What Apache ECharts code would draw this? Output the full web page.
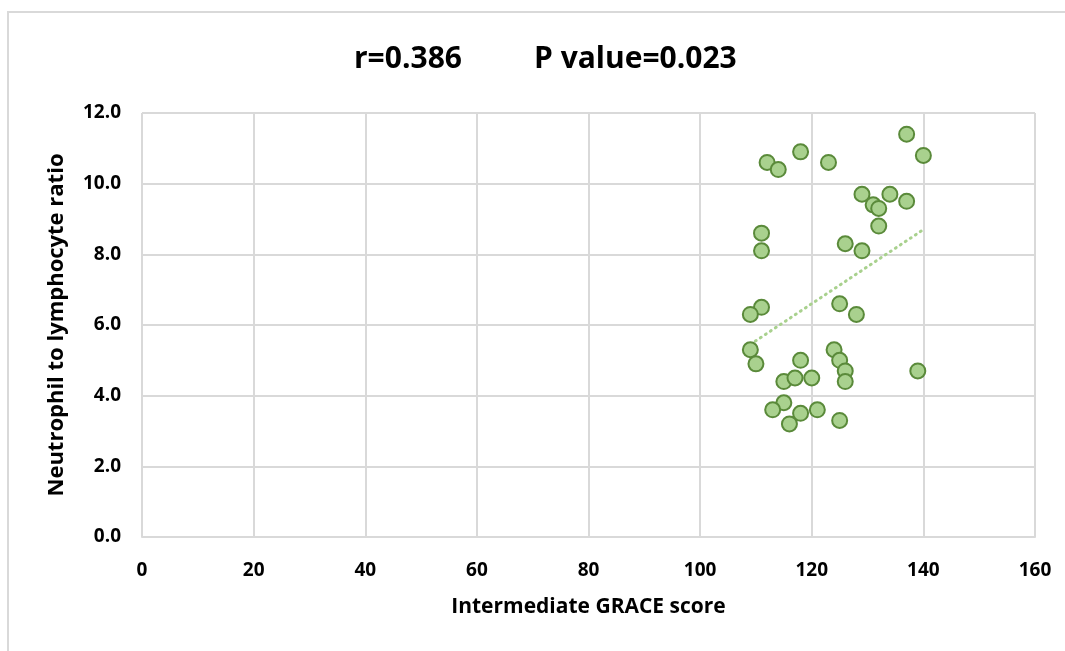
<!DOCTYPE html>
<html>
<head>
<meta charset="utf-8">
<script src="https://cdn.jsdelivr.net/npm/echarts@6/dist/echarts.min.js"></script>
<style>
  html, body { margin: 0; padding: 0; background: #fff; }
  #chart { width: 1065px; height: 651px; }
</style>
</head>
<body>
<div id="chart"></div>
<script>
// GRACE score vs NLR
const graceScore = [137, 140, 112, 114, 118, 123, 129, 134, 131, 132, 137, 132, 111, 111, 126, 129,
                    111, 109, 125, 128, 109, 110, 118, 124, 125, 126, 126, 139, 115, 117, 120,
                    115, 113, 118, 121, 116, 125];
const nlrValue   = [11.4, 10.8, 10.6, 10.4, 10.9, 10.6, 9.7, 9.7, 9.4, 9.3, 9.5, 8.8, 8.6, 8.1, 8.3, 8.1,
                    6.5, 6.3, 6.6, 6.3, 5.3, 4.9, 5.0, 5.3, 5.0, 4.7, 4.4, 4.7, 4.4, 4.5, 4.5,
                    3.8, 3.6, 3.5, 3.6, 3.2, 3.3];
// linear trendline end points (as drawn)
const trendX = [109, 140];
const trendY = [5.45, 8.7];

const titleTexts = ['r=0.386', 'P value=0.023'];
const xName = 'Intermediate GRACE score';
const yName = 'Neutrophil to lymphocyte ratio';

const FONT = '"Open Sans", "DejaVu Sans", sans-serif';
const GRID = '#d9d9d9';

const chart = echarts.init(document.getElementById('chart'), null, { renderer: 'canvas' });

chart.setOption({
    animation: false,
    graphic: [{
        type: 'rect',
        shape: { x: 8, y: 12, width: 1200, height: 800 },
        style: { fill: 'none', stroke: GRID, lineWidth: 2 },
        silent: true
    }],
    title: [
        { text: titleTexts[0], left: 349, top: 39,
          textStyle: { fontFamily: FONT, fontWeight: 'bold', fontSize: 30, color: '#000' } },
        { text: titleTexts[1], left: 529, top: 39,
          textStyle: { fontFamily: FONT, fontWeight: 'bold', fontSize: 30, color: '#000' } }
    ],
    grid: { left: 142, right: 30, top: 113, bottom: 114, containLabel: false },
    xAxis: {
        type: 'value',
        min: 0, max: 160, interval: 20,
        name: xName,
        nameLocation: 'middle',
        nameGap: 60,
        nameTextStyle: { fontFamily: FONT, fontWeight: 'bold', fontSize: 21, color: '#000' },
        axisLine: { show: true, lineStyle: { color: GRID, width: 2 } },
        axisTick: { show: false },
        axisLabel: { margin: 24, fontFamily: FONT, fontWeight: 'bold', fontSize: 19, color: '#000' },
        splitLine: { show: true, lineStyle: { color: GRID, width: 2 } }
    },
    yAxis: {
        type: 'value',
        min: 0, max: 12, interval: 2,
        name: yName,
        nameLocation: 'middle',
        nameGap: 74,
        nameTextStyle: { fontFamily: FONT, fontWeight: 'bold', fontSize: 22, color: '#000' },
        axisLine: { show: false },
        axisTick: { show: false },
        axisLabel: { margin: 21, fontFamily: FONT, fontWeight: 'bold', fontSize: 19, color: '#000',
                     formatter: v => v.toFixed(1) },
        splitLine: { show: true, lineStyle: { color: GRID, width: 2 } }
    },
    series: [
        {
            type: 'line',
            data: trendX.map((x, i) => [x, trendY[i]]),
            symbol: 'none',
            lineStyle: { color: '#a9d18e', width: 3, type: [1, 5], cap: 'round' },
            z: 1
        },
        {
            type: 'scatter',
            data: graceScore.map((x, i) => [x, nlrValue[i]]),
            symbol: 'circle',
            symbolSize: 15,
            itemStyle: { color: '#a9d18e', borderColor: '#5a8a3a', borderWidth: 2, opacity: 1 },
            z: 2
        }
    ]
});
</script>
</body>
</html>
